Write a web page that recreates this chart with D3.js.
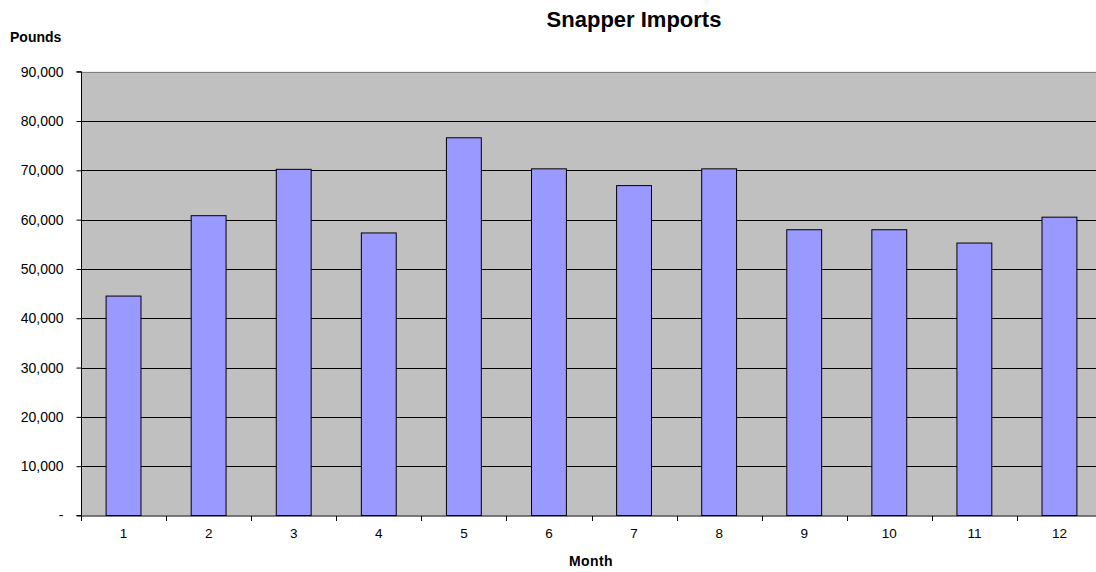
<!DOCTYPE html>
<html><head><meta charset="utf-8">
<script src="https://cdn.jsdelivr.net/npm/d3@7"></script>
<style>body{margin:0;background:#fff}svg{display:block}text{font-family:"Liberation Sans",Arial,sans-serif}</style>
</head><body><svg id="c" width="1096" height="572"></svg>
<script>
const months = ["1","2","3","4","5","6","7","8","9","10","11","12"];
const pounds = [44500, 60800, 70200, 57300, 76600, 70300, 66900, 70300, 57950, 57950, 55250, 60500];
const yTicks = [0,10000,20000,30000,40000,50000,60000,70000,80000,90000];

const svg = d3.select("#c");
const L = 81, R = 1102, T = 71.7, B = 515.5;
const x = d3.scaleBand().domain(months).range([L, R]).padding(0);
const y = d3.scaleLinear().domain([0, 90000]).range([B, T]);

svg.append("rect").attr("x", L).attr("y", T).attr("width", R - L).attr("height", B - T).attr("fill", "#c0c0c0");

// gridlines
svg.append("g").selectAll("line").data(yTicks.filter(d => d > 0 && d < 90000)).join("line")
  .attr("x1", L).attr("x2", R).attr("y1", d => Math.round(y(d)) + 0.5).attr("y2", d => Math.round(y(d)) + 0.5)
  .attr("stroke", "#000").attr("stroke-width", 1);
// top border
svg.append("line").attr("x1", L).attr("x2", R).attr("y1", Math.round(T) + 0.5).attr("y2", Math.round(T) + 0.5)
  .attr("stroke", "#808080");

// bars
const bw = x.bandwidth() * 0.41;
svg.append("g").selectAll("rect").data(months).join("rect")
  .attr("x", (d) => x(d) + (x.bandwidth() - bw) / 2)
  .attr("y", (d, i) => y(pounds[i]))
  .attr("width", bw)
  .attr("height", (d, i) => B - y(pounds[i]))
  .attr("fill", "#9999ff").attr("stroke", "#000").attr("stroke-width", 1);

// y axis
const yAxis = d3.axisLeft(y).tickValues(yTicks).tickSize(5).tickPadding(13)
  .tickFormat(d => d === 0 ? "-" : d3.format(",")(d));
const gy = svg.append("g").attr("transform", `translate(${L + 0.5},0)`).call(yAxis);
gy.select(".domain").attr("stroke", "#000").attr("d", `M-5,${T}H0V${B}H-5`);
gy.selectAll(".tick line").attr("stroke", "#000");
gy.selectAll("text").attr("font-size", 14).attr("fill", "#000").attr("font-family", "Liberation Sans, Arial, sans-serif");

// x axis
const xAxis = d3.axisBottom(x).tickSize(0).tickPadding(12);
const gx = svg.append("g").attr("transform", `translate(0,${B + 0.5})`).call(xAxis);
gx.select(".domain").attr("stroke", "#000").attr("d", `M${L},0H${R}`);
gx.selectAll("text").attr("font-size", 13.5).attr("fill", "#000").attr("font-family", "Liberation Sans, Arial, sans-serif");
// tick marks at band boundaries
gx.append("g").selectAll("line").data(months.concat(["end"])).join("line")
  .attr("x1", (d, i) => Math.round(L + i * x.bandwidth()) + 0.5)
  .attr("x2", (d, i) => Math.round(L + i * x.bandwidth()) + 0.5)
  .attr("y1", 0).attr("y2", 5).attr("stroke", "#000");

// titles
svg.append("text").attr("x", 634).attr("y", 26.5).attr("text-anchor", "middle")
  .attr("font-size", 22).attr("font-weight", "bold").text("Snapper Imports");
svg.append("text").attr("x", 10).attr("y", 42).attr("font-size", 14).attr("font-weight", "bold").text("Pounds");
svg.append("text").attr("x", 591).attr("y", 566).attr("text-anchor", "middle")
  .attr("font-size", 14).attr("font-weight", "bold").attr("letter-spacing", 0.4).text("Month");
</script></body></html>
